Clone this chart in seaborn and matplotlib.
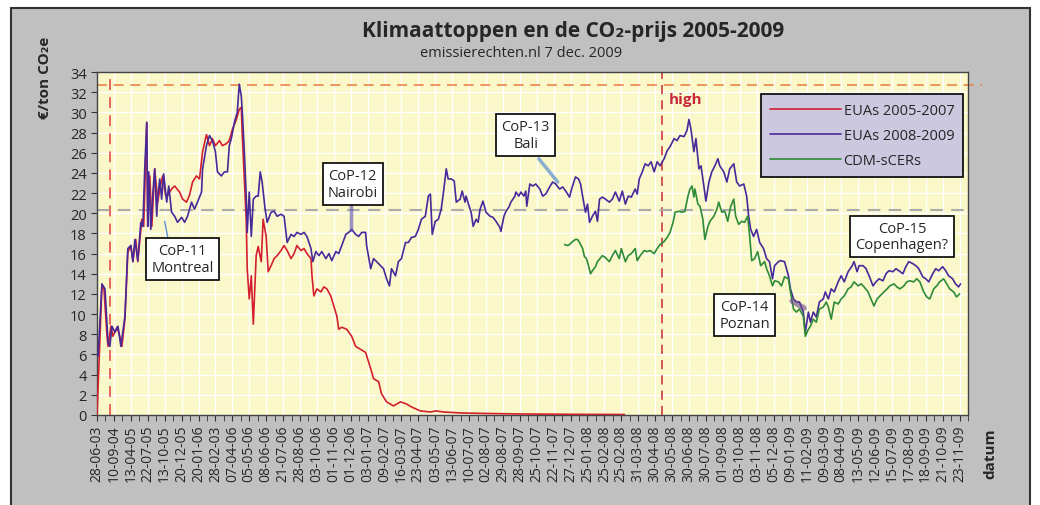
import numpy as np
import pandas as pd
import matplotlib
matplotlib.use("Agg")
import matplotlib.pyplot as plt
from matplotlib.patches import Rectangle
from matplotlib.lines import Line2D
import seaborn as sns

# tick labels of the category axis (one per position 0..51)
date_labels = [
    "28-06-03", "10-09-04", "13-04-05", "22-07-05", "13-10-05", "20-12-05",
    "20-01-06", "28-02-03", "07-04-06", "05-05-06", "08-06-06", "21-07-06",
    "28-08-06", "03-10-06", "01-11-06", "01-12-06", "03-01-07", "09-02-07",
    "16-03-07", "23-04-07", "03-05-07", "13-06-07", "10-07-07", "02-08-07",
    "29-08-07", "28-09-07", "25-10-07", "22-11-07", "27-12-07", "25-01-08",
    "25-02-08", "25-02-08", "31-03-08", "30-04-08", "30-05-08", "30-06-08",
    "30-07-08", "01-09-08", "03-10-08", "03-11-08", "05-12-08", "09-01-09",
    "11-02-09", "09-03-09", "08-04-09", "13-05-09", "12-06-09", "15-07-09",
    "17-08-09", "18-09-09", "21-10-09", "23-11-09",
]

# EUAs 2005-2007 (position on axis, EUR/ton)
eua0507_x = [0.0, 0.29, 0.41, 0.59, 0.65, 0.82, 0.94, 1.18, 1.35, 1.47, 1.65, 1.82, 2.0, 2.12,
             2.29, 2.41, 2.65, 2.76, 2.94, 3.0, 3.12, 3.24, 3.41, 3.59, 3.71, 3.88, 4.06, 4.18,
             4.41, 4.59, 4.88, 5.06, 5.29, 5.47, 5.65, 5.88, 6.06, 6.24, 6.47, 6.65, 6.82, 7.0,
             7.24, 7.41, 7.65, 7.82, 8.0, 8.24, 8.41, 8.53, 8.59, 8.71, 8.82, 8.88, 9.0, 9.12,
             9.24, 9.41, 9.53, 9.71, 9.82, 10.0, 10.12, 10.29, 10.47, 10.65, 10.88, 11.06, 11.24,
             11.47, 11.65, 11.82, 12.06, 12.24, 12.41, 12.65, 12.71, 12.82, 13.0, 13.24, 13.41,
             13.59, 13.82, 14.0, 14.18, 14.29, 14.47, 14.76, 15.06, 15.29, 15.59, 15.88, 16.18,
             16.35, 16.65, 16.82, 17.12, 17.53, 17.94, 18.29, 18.59, 19.12, 19.71, 20.06, 20.47,
             21.5, 23.0, 25.0, 27.0, 29.0, 31.18]
eua0507_y = [0.0, 12.8, 12.5, 7.8, 6.8, 8.8, 7.8, 8.7, 7.8, 6.8, 9.5, 16.1, 16.8, 15.2,
             17.4, 15.2, 19.4, 18.7, 29.0, 18.7, 23.7, 18.7, 24.4, 21.1, 22.4, 23.7, 21.7, 21.8,
             22.4, 22.7, 22.1, 21.4, 21.1, 21.8, 23.1, 23.7, 23.4, 26.1, 27.8, 26.7, 27.4, 26.7,
             27.2, 26.7, 26.9, 27.2, 28.3, 29.3, 30.3, 30.5, 27.7, 23.4, 19.4, 14.5, 11.5, 13.8,
             9.0, 15.8, 16.7, 15.2, 19.4, 17.7, 14.2, 14.8, 15.5, 15.8, 16.3, 16.8, 16.3,
             15.5, 16.0, 16.8, 16.3, 16.5, 16.0, 15.5, 13.8, 11.8, 12.5, 12.2, 12.7,
             12.5, 11.8, 10.8, 9.8, 8.5, 8.7, 8.5, 7.8, 6.8, 6.5, 6.2, 4.6,
             3.6, 3.3, 2.1, 1.3, 0.9, 1.3, 1.1, 0.8, 0.4, 0.3, 0.4, 0.3,
             0.2, 0.15, 0.1, 0.08, 0.06, 0.05]

# EUAs 2008-2009
eua0809_x = [0.06, 0.29, 0.47, 0.65, 0.76, 0.88, 1.06, 1.24, 1.41, 1.65, 1.82, 2.0, 2.12, 2.24,
             2.41, 2.59, 2.71, 2.82, 2.94, 3.0, 3.06, 3.18, 3.29, 3.41, 3.53, 3.59, 3.71, 3.82,
             3.94, 4.12, 4.24, 4.41, 4.59, 4.76, 5.0, 5.18, 5.35, 5.59, 5.76, 5.94, 6.18, 6.24,
             6.47, 6.65, 6.82, 7.0, 7.12, 7.35, 7.53, 7.71, 7.82, 7.94, 8.12, 8.29, 8.41, 8.53,
             8.59, 8.71, 8.82, 8.88, 9.0, 9.12, 9.24, 9.41, 9.53, 9.65, 9.76, 9.94, 10.06, 10.29,
             10.47, 10.65, 10.88, 11.06, 11.24, 11.47, 11.65, 11.82, 12.06, 12.24, 12.41, 12.65,
             12.76, 12.94, 13.12, 13.29, 13.53, 13.71, 13.88, 14.12, 14.29, 14.47, 14.71, 14.88,
             15.06, 15.29, 15.47, 15.65, 15.88, 15.94, 16.18, 16.35, 16.53, 16.76, 16.94, 17.12,
             17.29, 17.41, 17.65, 17.82, 18.0, 18.24, 18.41, 18.59, 18.82, 19.0, 19.18, 19.41,
             19.59, 19.71, 19.82, 20.0, 20.18, 20.35, 20.47, 20.65, 20.76, 20.94, 21.12, 21.24,
             21.47, 21.59, 21.76, 21.82, 22.0, 22.12, 22.24, 22.41, 22.53, 22.65, 22.82, 23.0,
             23.24, 23.41, 23.59, 23.82, 23.88, 24.06, 24.18, 24.35, 24.47, 24.71, 24.76, 24.94,
             25.06, 25.24, 25.35, 25.41, 25.59, 25.76, 25.94, 26.18, 26.35, 26.53, 26.76, 26.94,
             27.12, 27.35, 27.53, 27.71, 27.94, 28.06, 28.29, 28.47, 28.59, 28.71, 28.88, 29.0,
             29.12, 29.29, 29.47, 29.59, 29.71, 29.88, 30.06, 30.29, 30.47, 30.65, 30.88, 31.06,
             31.24, 31.41, 31.59, 31.82, 31.94, 32.06, 32.24, 32.41, 32.59, 32.76, 32.94, 33.12,
             33.29, 33.53, 33.71, 33.88, 34.12, 34.29, 34.47, 34.71, 34.88, 35.0, 35.12, 35.29,
             35.41, 35.59, 35.71, 35.88, 36.0, 36.18, 36.35, 36.53, 36.71, 36.82, 37.06, 37.24,
             37.41, 37.65, 37.82, 38.0, 38.24, 38.41, 38.53, 38.65, 38.82, 39.0, 39.18, 39.41,
             39.59, 39.76, 39.94, 40.06, 40.29, 40.41, 40.65, 40.88, 41.0, 41.18, 41.35, 41.53,
             41.76, 41.88, 42.06, 42.18, 42.35, 42.53, 42.71, 42.94, 43.06, 43.24, 43.41, 43.59,
             43.82, 44.0, 44.18, 44.41, 44.65, 44.76, 44.94, 45.06, 45.29, 45.47, 45.65, 45.88,
             46.06, 46.24, 46.47, 46.65, 46.82, 47.06, 47.24, 47.41, 47.65, 47.82, 48.0, 48.24,
             48.41, 48.59, 48.82, 49.0, 49.18, 49.41, 49.59, 49.76, 50.0, 50.18, 50.35, 50.59,
             50.76, 50.94, 51.06]
eua0809_y = [5.8, 13.0, 12.5, 7.2, 6.8, 8.8, 8.2, 8.8, 6.8, 9.8, 16.5, 16.8, 15.2, 17.4,
             15.3, 19.1, 18.7, 24.4, 29.0, 18.7, 24.1, 18.4, 21.7, 24.4, 19.7, 21.7, 23.4, 21.4,
             23.9, 21.1, 22.7, 20.1, 19.7, 19.1, 19.6, 19.1, 19.7, 21.1, 20.4, 21.1, 22.1, 24.4,
             26.7, 27.7, 27.2, 26.1, 24.1, 23.7, 24.1, 24.1, 26.7, 27.4, 29.0, 30.0, 32.8, 31.6,
             30.0, 26.1, 21.7, 18.1, 22.1, 17.7, 21.4, 21.7, 21.7, 24.1, 23.1, 20.4, 19.1, 20.1,
             20.2, 19.7, 19.9, 19.7, 17.1, 17.9, 17.7, 18.1, 17.9, 18.1, 17.7, 16.5,
             15.2, 16.2, 15.8, 16.2, 15.5, 16.0, 15.3, 16.2, 16.0, 16.8, 17.9, 18.1,
             18.4, 17.9, 17.7, 18.1, 18.1, 16.8, 14.5, 15.5, 15.2, 14.8, 14.5, 13.5,
             12.8, 14.5, 13.8, 15.2, 15.5, 17.1, 17.1, 17.6, 17.7, 18.4, 19.4, 19.7,
             21.7, 21.9, 17.9, 19.2, 19.4, 20.4, 21.9, 24.4, 23.4, 23.4, 23.2, 21.1,
             21.4, 22.2, 21.1, 21.7, 20.7, 20.1, 18.7, 19.4, 19.1, 20.4, 21.2, 20.1,
             19.7, 19.6, 19.2, 18.6, 18.2, 19.7, 20.2, 20.6, 21.1, 21.7, 22.1, 21.7,
             22.1, 21.7, 22.2, 20.7, 22.9, 22.7, 22.9, 22.4, 21.7, 21.9, 22.6, 23.1,
             22.9, 22.4, 22.6, 22.2, 21.6, 22.4, 23.6, 23.4, 22.9, 21.7, 20.1, 20.9,
             19.1, 19.7, 20.2, 19.2, 21.4, 21.6, 21.4, 21.1, 21.4, 22.1, 21.2, 22.2,
             20.9, 21.7, 21.6, 22.4, 21.9, 23.4, 24.1, 24.9, 24.7, 25.1, 24.1, 25.1,
             24.7, 25.4, 26.2, 26.6, 27.4, 27.2, 27.7, 27.6, 28.2, 29.3, 28.3, 26.1,
             27.4, 24.4, 24.7, 22.7, 21.2, 23.1, 24.1, 24.7, 25.4, 24.7, 24.1, 23.1,
             24.4, 24.9, 23.1, 22.7, 22.9, 21.7, 19.7, 18.4, 17.7, 18.4, 17.1, 16.5,
             15.5, 15.2, 13.5, 14.8, 15.2, 15.3, 15.2, 13.8, 12.5, 11.5, 11.2, 11.2,
             10.2, 8.2, 10.2, 9.2, 10.2, 9.7, 11.2, 11.5, 12.2, 11.5, 12.5, 12.2,
             13.2, 13.8, 13.2, 14.2, 14.8, 15.2, 14.2, 14.8, 14.8, 14.5, 13.8, 12.8,
             13.2, 13.5, 13.3, 14.0, 14.3, 14.2, 14.5, 14.3, 14.0, 14.7, 15.2, 15.0,
             14.8, 14.5, 13.7, 13.5, 13.2, 14.0, 14.5, 14.3, 14.7, 14.3, 13.8, 13.5,
             13.0, 12.7, 13.0]

# CDM-sCERs
cer_x = [27.65, 27.82, 27.94, 28.12, 28.29, 28.41, 28.53, 28.71, 28.82, 28.94, 29.06, 29.18,
         29.29, 29.47, 29.59, 29.88, 30.06, 30.29, 30.47, 30.65, 30.88, 31.0, 31.24, 31.41,
         31.59, 31.82, 31.94, 32.12, 32.35, 32.53, 32.71, 32.94, 33.12, 33.29, 33.53, 33.71,
         33.88, 34.06, 34.18, 34.41, 34.59, 34.76, 34.94, 35.06, 35.18, 35.29, 35.35, 35.53,
         35.65, 35.82, 35.94, 36.12, 36.24, 36.47, 36.65, 36.76, 36.94, 37.12, 37.29, 37.47,
         37.65, 37.76, 37.94, 38.12, 38.29, 38.47, 38.59, 38.71, 38.88, 39.06, 39.24, 39.47,
         39.59, 39.76, 39.94, 40.06, 40.29, 40.47, 40.65, 40.88, 41.0, 41.18, 41.35, 41.53,
         41.76, 41.88, 42.06, 42.18, 42.35, 42.53, 42.71, 42.94, 43.12, 43.24, 43.41, 43.59,
         43.82, 44.0, 44.18, 44.41, 44.59, 44.76, 45.0, 45.18, 45.35, 45.59, 45.76, 45.94,
         46.12, 46.29, 46.53, 46.71, 46.88, 47.12, 47.29, 47.47, 47.71, 47.88, 48.06, 48.29,
         48.47, 48.65, 48.88, 49.06, 49.24, 49.47, 49.65, 49.82, 50.06, 50.24, 50.41, 50.65,
         50.82, 51.0]
cer_y = [16.9, 16.8, 16.9, 17.2, 17.4, 17.4, 17.1, 16.5, 15.7, 15.5, 14.8, 14.0,
         14.3, 14.7, 15.2, 15.8, 15.6, 15.2, 15.8, 16.3, 15.5, 16.5, 15.2, 15.8,
         16.0, 16.5, 15.3, 15.8, 16.3, 16.2, 16.3, 16.0, 16.5, 16.9, 17.2, 17.6,
         18.1, 19.1, 20.1, 20.2, 20.1, 20.2, 21.7, 22.4, 22.7, 21.6, 22.4, 20.9,
         20.7, 19.4, 17.4, 18.7, 19.2, 19.7, 20.4, 21.1, 20.1, 20.2, 19.2, 20.7,
         21.4, 19.7, 18.9, 19.2, 19.1, 19.7, 17.7, 15.3, 15.5, 16.2, 14.8, 15.2,
         14.5, 13.8, 12.8, 13.3, 13.2, 12.8, 13.7, 13.5, 12.2, 10.5, 10.2, 10.5,
         9.8, 7.8, 8.5, 8.8, 9.5, 9.2, 10.5, 10.7, 11.2, 10.7, 9.5, 11.2,
         11.0, 11.5, 11.8, 12.5, 12.7, 13.2, 12.8, 13.0, 12.7, 12.2, 11.5, 10.8,
         11.5, 11.8, 12.2, 12.5, 12.8, 13.0, 12.7, 12.5, 12.8, 13.2, 13.3, 13.2,
         13.5, 13.2, 12.2, 11.7, 11.5, 12.5, 12.8, 13.2, 13.5, 13.0, 12.5, 12.2,
         11.7, 12.0]

# reference lines
start_pos = 0.76      # red dashed vertical near start
high_pos = 33.41      # "high" vertical
high_price = 32.7     # all-time high level
mid_price = 20.3      # grey reference level

# climate summits: label, box centre (axis pos, price)
cop_labels = ["CoP-11\nMontreal", "CoP-12\nNairobi", "CoP-13\nBali", "CoP-14\nPoznan", "CoP-15\nCopenhagen?"]
cop_box_x = [5.06, 15.12, 25.35, 38.3, 47.6]
cop_box_y = [15.45, 22.9, 27.75, 9.9, 17.7]

RED = "#D2202F"
PURPLE = "#47299A"
GREEN = "#2E8B37"

sns.set_style("ticks")
plt.rcParams['font.family'] = ['Open Sans', 'DejaVu Sans']

fig = plt.figure(figsize=(10.4, 5.06), dpi=100, facecolor="white")
fig.patches.append(Rectangle((0.0106, -0.02), 0.98, 1.002, transform=fig.transFigure,
                             facecolor="#C0C0C0", edgecolor="#333333", lw=1.5, zorder=-10))

ax = fig.add_axes([0.0933, 0.1779, 0.8375, 0.6778])
ax.set_facecolor("#FAF7C9")

df_red = pd.DataFrame({"pos": eua0507_x, "prijs": eua0507_y})
df_pur = pd.DataFrame({"pos": eua0809_x, "prijs": eua0809_y})
df_grn = pd.DataFrame({"pos": cer_x, "prijs": cer_y})

sns.lineplot(data=df_red, x="pos", y="prijs", ax=ax, color=RED, lw=1.2, estimator=None, zorder=3)
sns.lineplot(data=df_pur, x="pos", y="prijs", ax=ax, color=PURPLE, lw=1.2, estimator=None, zorder=4)
sns.lineplot(data=df_grn, x="pos", y="prijs", ax=ax, color=GREEN, lw=1.2, estimator=None, zorder=4)

# reference lines
ax.axvline(start_pos, color="#E05A5A", lw=1.3, dashes=(6, 4), zorder=2)
ax.axvline(high_pos, color="#C8283A", lw=1.1, dashes=(6, 4), zorder=2)
ax.plot([0, 52.3], [high_price, high_price], color="#E8864A", lw=1.2, dashes=(6, 4),
        clip_on=False, zorder=2)
ax.axhline(mid_price, color="#ABABAB", lw=1.5, dashes=(6, 4), zorder=2)
ax.text(high_pos + 0.4, 31.3, "high", color="#C8283A", fontsize=11, fontweight="bold",
        ha="left", va="center")

# summit boxes
for lab, bx, by in zip(cop_labels, cop_box_x, cop_box_y):
    ax.text(bx, by, lab, ha="center", va="center", fontsize=10.5, linespacing=1.15, zorder=6,
            bbox=dict(boxstyle="square,pad=0.35", fc="white", ec="black", lw=1.2))

# faint leader marks
ax.plot([4.0, 4.18], [19.2, 17.6], color="#5B8FD0", lw=1.0, zorder=5)
ax.plot([15.0, 15.0], [20.8, 18.3], color="#5A4AAE", lw=2.5, alpha=0.6, zorder=5)
ax.plot([26.12, 27.24], [25.4, 23.1], color="#5B8FD0", lw=2.5, alpha=0.7, zorder=5)
ax.plot([41.1, 41.8], [11.3, 10.6], color="#6A4A8E", lw=4, alpha=0.6, zorder=5)

# axes
ax.set_xlim(0, 51.24)
ax.set_ylim(0, 34)
ax.set_xticks(range(len(date_labels)))
ax.set_xticklabels(date_labels, rotation=90, fontsize=10)
ax.set_xticks(np.arange(0.5, len(date_labels), 1), minor=True)
ax.set_yticks(range(0, 35, 2))
ax.tick_params(axis="y", labelsize=10.5, length=4, color="#333333")
ax.tick_params(axis="x", which="both", length=4, color="#333333", pad=3)
ax.grid(which="major", color="white", lw=1.0)
ax.set_axisbelow(True)
ax.set_xlabel("")
ax.set_ylabel("")
for sp in ax.spines.values():
    sp.set_color("#444444")
    sp.set_linewidth(1.0)

# legend
handles = [Line2D([], [], color=RED, lw=1.2), Line2D([], [], color=PURPLE, lw=1.2),
           Line2D([], [], color=GREEN, lw=1.2)]
leg = ax.legend(handles, ["EUAs 2005-2007", "EUAs 2008-2009", "CDM-sCERs"],
                loc="upper right", bbox_to_anchor=(0.9943, 0.936), borderaxespad=0,
                fontsize=10.5, handlelength=4.9, handletextpad=0.15, labelspacing=0.7,
                fancybox=False, framealpha=1, facecolor="#CCC8E0", edgecolor="black",
                borderpad=0.6)
leg.get_frame().set_linewidth(1.2)
leg.set_zorder(7)

# texts
fig.text(0.551, 0.937, "Klimaattoppen en de CO₂-prijs 2005-2009", ha="center", va="center",
         fontsize=15, fontweight="bold")
fig.text(0.501, 0.895, "emissierechten.nl 7 dec. 2009", ha="center", va="center", fontsize=10.5)
fig.text(0.0433, 0.846, "€/ton CO₂e", rotation=90, ha="center", va="center",
         fontsize=11, fontweight="bold")
fig.text(0.952, 0.103, "datum", rotation=90, ha="center", va="center",
         fontsize=11, fontweight="bold")

fig.savefig("out.png", dpi=100, facecolor=fig.get_facecolor())
